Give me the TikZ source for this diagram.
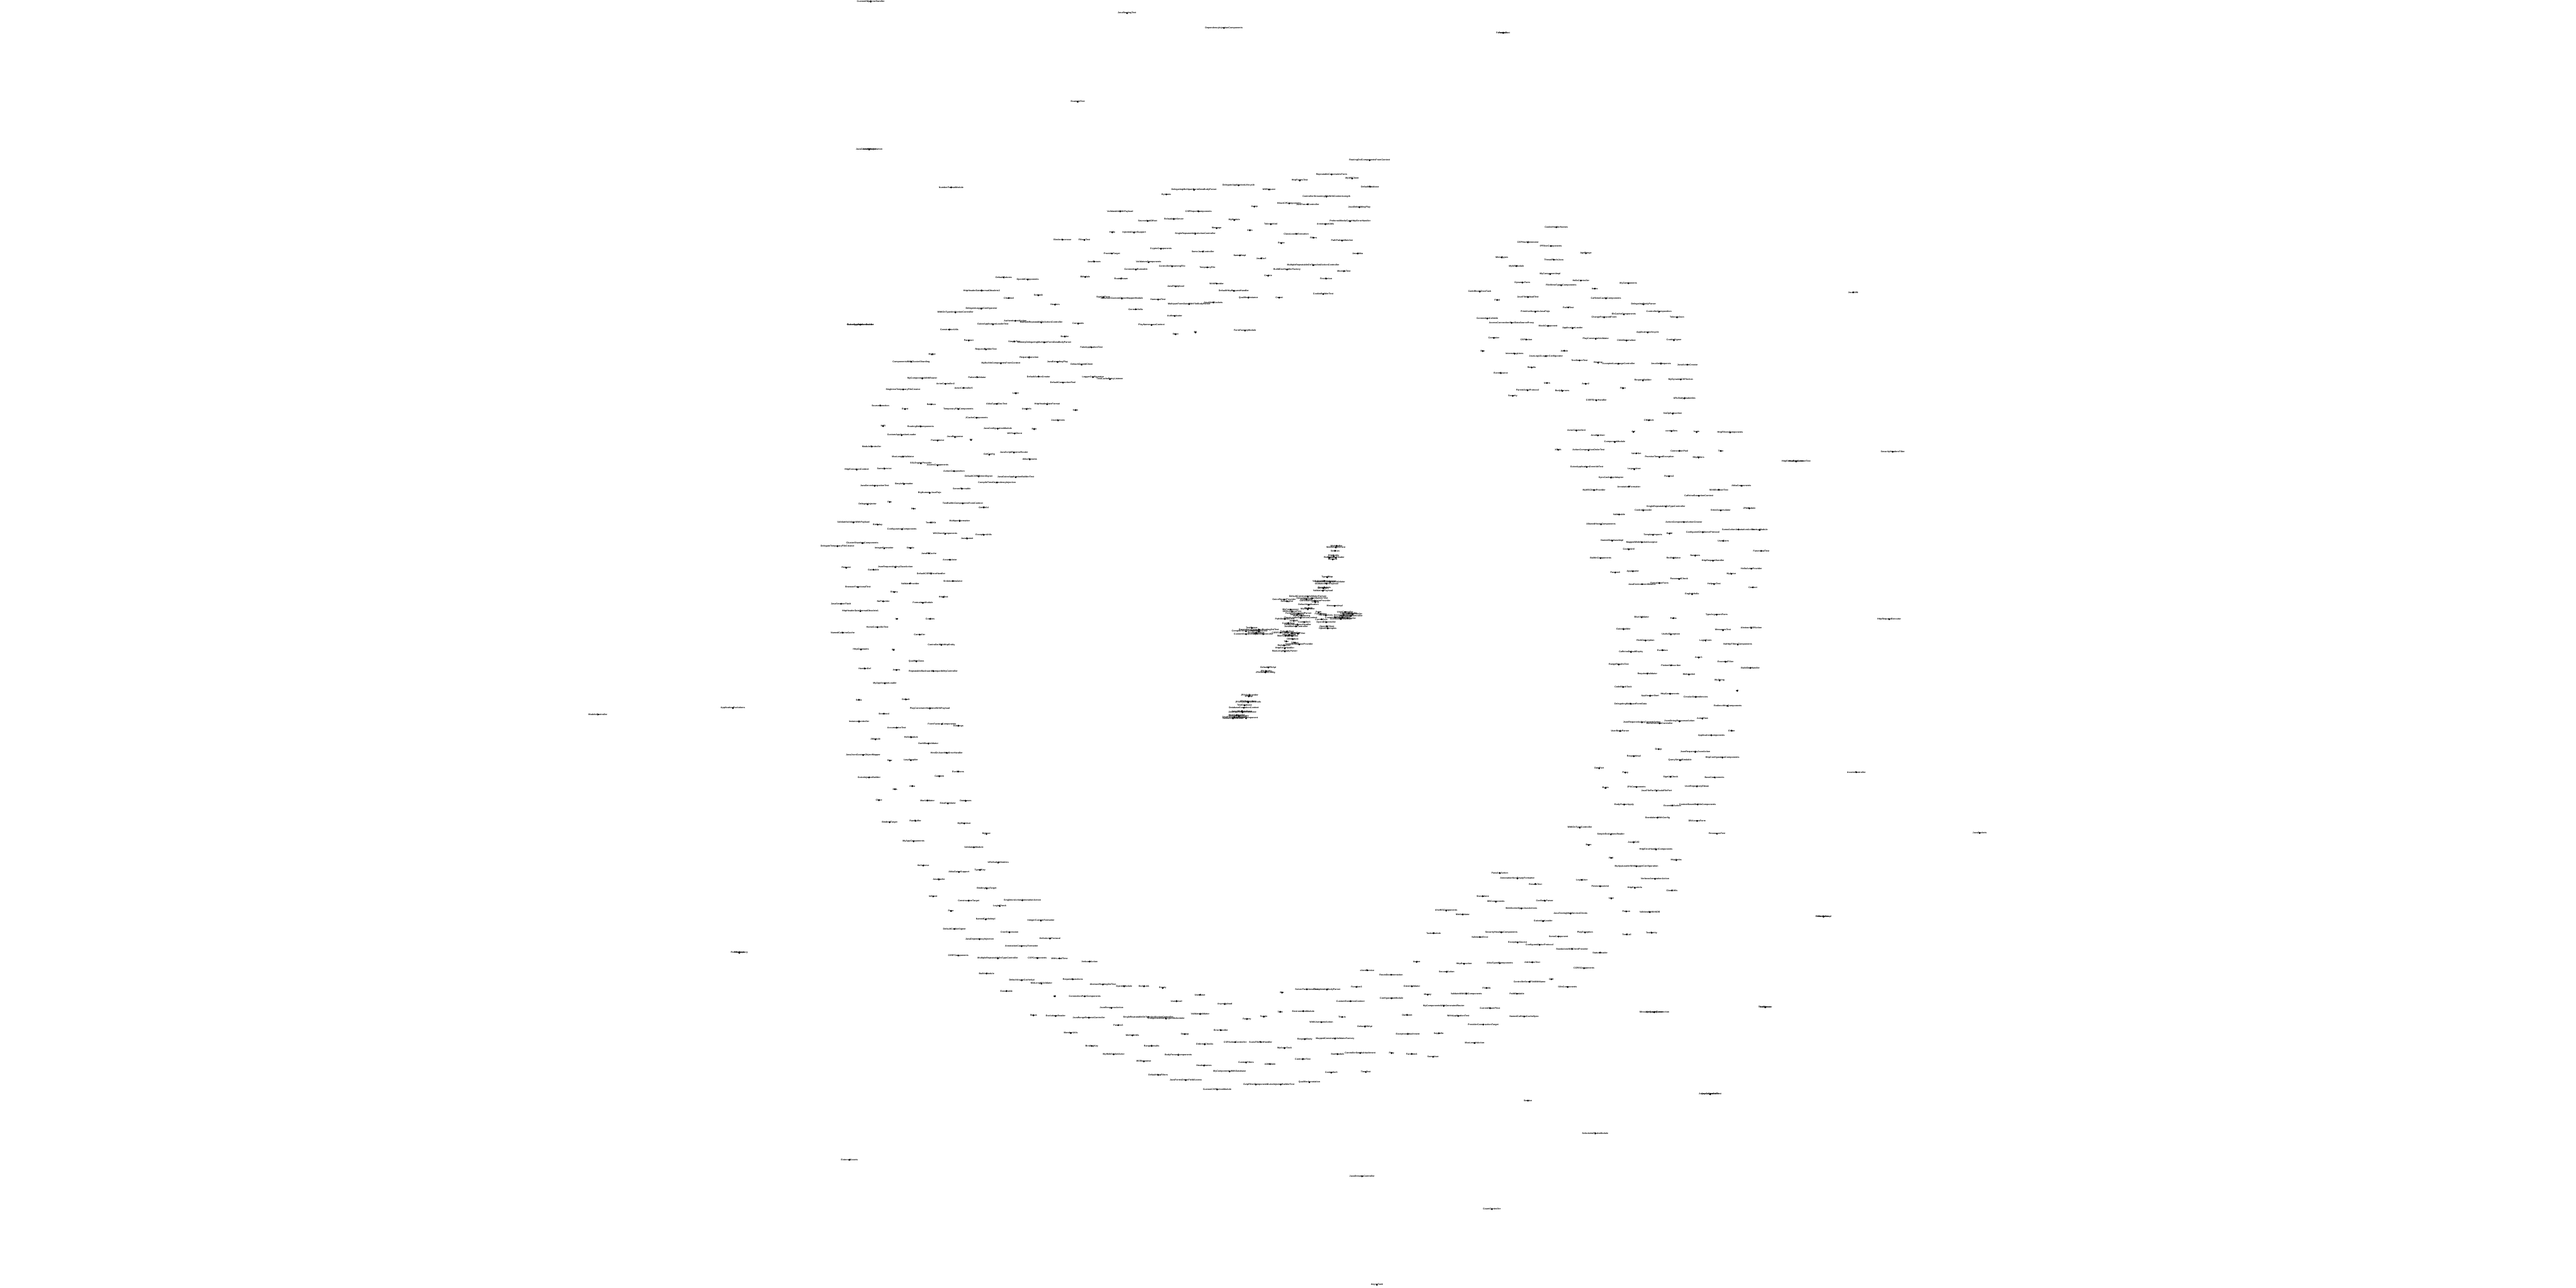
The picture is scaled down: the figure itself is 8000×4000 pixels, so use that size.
\documentclass[tikz,border=0pt]{standalone}
\usepackage{fontspec}
\setmainfont{Liberation Sans}
\newcommand\lblfont{\fontsize{1.02}{1.2}\selectfont\bfseries}
\tikzset{
 lbl/.style={font=\lblfont, inner sep=0pt, text=black},
 edge/.style={draw=black!50, line width=0.35pt},
 crop/.style n args={4}{shift={(#1,#2)}, x={(#3*0.005cm,0cm)}, y={(0cm,-#4*0.005cm)}},
}
\newcommand\labset[2]{\foreach \x/\y/\t [count=\i] in {#2}{\node[lbl] (#1\i) at (\x,\y) {\t}; \fill (#1\i.center) circle (0.015cm);}}
\newcommand\cn[4]{\node[lbl] (#1) at (#2,#3) {#4}; \fill (#1.center) circle (0.015cm);}
\pgfdeclarelayer{bg}\pgfsetlayers{bg,main}
\begin{document}
\begin{tikzpicture}[x=0.005cm,y=-0.005cm]
\fill[white] (0,0) rectangle (8000,4000);
\useasboundingbox (0,0) rectangle (8000,4000);

% ---- top arc (crop 2)
\begin{scope}[crop={3300}{450}{0.6378}{0.3827}]
\labset{b}{1495/125/RoutingDslComponentsFromContext,1310/240/RepeatableConstraintsForm,1410/273/MyWSClient,1155/289/HttpFormsTest,1497/339/DefaultDatabase,857/328/DelegateApplicationLifecycle,1005/362/WSRequest,640/365/DelegatingMultipartFormDataBodyParser,505/402/Dynamic,1285/420/ControllerStreamingFileWithContentLength,1103/475/HikariCPComponents,1193/482/JavaTracerController,934/501/Jsonp,1445/506/JavaEmbeddingPlay,280/540/ValidatableWithPayload,662/540/CSPReportComponents,542/602/ReloadableServer,414/618/SourceAndOffset,836/610/MyModule,1400/620/PreferredMediaTypeHttpErrorHandler,1014/644/TolerantXml,1280/644/AnnotationUtils,750/676/Message,912/693/Attrs,242/710/Hello,348/712/InjectedActorSupport,646/722/SingleRepeatableOnActionController,1138/722/ClassLoaderExecution,1222/753/Filters,1361/777/PathPatternMatcher,106/772/FiltersTest,1065/798/Route,479/843/CryptoComponents,683/866/SomeJavaController,240/882/ProviderTarget,1437/882/JavaAkka,863/897/NamedImpl,967/921/JavaCsrf,153/947/JavaStream,419/952/ValidatorsComponents,1220/976/MultipleRepeatableOnTypeAndActionController,533/986/ControllerStreamingFile,705/994/TemporaryFile,357/1012/ConnectionRunnable,1093/1012/BuildDocHandlerFactory,1370/1025/MockitoTest,1001/1062/Cookie,110/1072/BModule,285/1085/RouteParam,1283/1085/FirstAction,750/1125/WithProvider,551/1148/JavaFileUpload,834/1185/DefaultHttpRequestHandler,1269/1211/CookieBuilderTest,198/1237/SignUpForm,288/1247/JavaJsonCustomObjectMapperModule,905/1240/QualifiedInstance,1055/1240/Comet,465/1255/HamcrestTest,734/1279/JavaWebSockets,616/1292/MultipartFormDataWithFileBodyParser,356/1334/GermanHello,546/1389/Authenticator,76/1451/Constants,433/1462/PlayNamespaceContext,888/1507/FormFactoryModule,647/1522/R2,550/1537/Strict}
\end{scope}

% ---- upper left arc (crop 5)
\begin{scope}[crop={2500}{700}{0.7015}{0.5102}]
\labset{e}{1140/87/BinderAccessor,880/317/DefaultFutures,986/330/OpenIdComponents,782/397/HttpHeaderDateFormatObsolete2,902/442/Chunked,1033/426/Subtask,1107/483/Headers,781/507/DelegateLoggerConfigurator,666/530/WithOnTypeAndActionController,245/604/GuiceApplicationBuilder,245/604/GuiceApplicationLoader,931/581/AuthenticatedAction,1046/591/MultipleRepeatableOnActionController,832/603/GuiceApplicationLoaderTest,639/634/ConstructorUtils,1150/677/Builder,725/701/Params1,927/707/SimpleTest,1060/712/DummyDelegatingMultipartFormDataBodyParser,1268/742/FakeApplicationTest,801/755/RequestBuilderTest,563/785/MyApi,992/804/RequestFunction,470/830/ComponentsWithClusterSharding,867/840/MyBuiltInComponentsFromContext,1118/832/JavaExtendingPlay,1225/848/DefaultOpenIdClient,762/924/PatternValidator,1034/920/DefaultActionCreator,1275/924/LoggerConfigurator,1350/936/TestCacheEntryListener,519/932/MyComponentsWithRouter,1142/957/DefaultConnectionPool,622/965/ActorController2,702/989/ActorController5,434/999/SingletonTemporaryFileCreator,933/1022/Letter,334/1097/SourceFunction,559/1089/Relative,849/1087/AkkaTypedDocTest,1072/1089/HttpHeaderDateFormat,443/1118/Event,679/1118/TemporaryFileComponents,981/1118/UserInfo,1198/1124/form,760/1171/JCacheComponents,1120/1187/JavaActions,346/1222/NdR,512/1224/RoutingDslComponents,853/1238/JavaConfigurationModule,1015/1240/Role,928/1267/WSTestClient,428/1277/CustomApplicationLoader,664/1289/JavaResponse,587/1310/ParentActor,735/1306/A1,295/1346/ModuleController,816/1396/GetConfig,925/1383/JavaScriptReverseRouter,995/1424/AkkaStreams,434/1408/MaxLengthValidator,513/1449/SSLEngineProvider,587/1461/AssetsComponents,229/1487/HttpExecutionContext,351/1481/SomeService,660/1496/ActionComposition,769/1528/DefaultCSRFTokenSigner,933/1533/JavaGuiceApplicationBuilderTest,850/1565/CompileTimeDependencyInjection}
\end{scope}

% ---- left arc (crop 3)
\begin{scope}[crop={2500}{1500}{0.3827}{0.3189}]
\labset{c}{803/10/SimpleFormatter,565/28/JavaServerIntegrationTest,1272/55/ServerRunnable,1012/97/BigNumericJavaPojo,687/185/Foo,508/208/DelegateInjector,1280/199/TestBuiltInComponentsFromContext,881/250/Port,1450/238/GetChild,393/385/ValidateValidatorWithPayload,590/406/Birthday,1022/385/Text10Kb,1255/370/MultipartFormatter,787/451/ConfigurationComponents,1138/496/WSClientComponents,1450/505/ExceptionUtils,1315/541/JavaComet,465/586/ClusterShardingComponents,263/616/DelegateTemporaryFileCreator,642/637/IntegerFormatter,855/634/Simple,1005/685/JavaEhCache,1176/748/Accumulator,335/826/Request,733/820/JsonRequestAsAnyClazzAction,556/844/Guiceable,1023/883/DefaultCSRFErrorHandler,1200/955/SinkAccumulator,853/979/ValidateProvider,430/1015/BrowserFunctionalTest,724/1063/Binary,1124/1111/HttpTest,635/1153/NoProvider,956/1168/FormattersModule,292/1177/JavaSessionFlash,449/1249/HttpHeaderDateFormatObsolete1,745/1324/Int,1016/1324/Cookies,588/1405/HomeControllerTest,306/1459/NamedCaffeineCache,930/1477/Controller}
\end{scope}

% ---- lower left arc (crop 6)
\begin{scope}[crop={2500}{2000}{0.5102}{0.574}]
\labset{f}{830/5/ControllerWithHttpEntity,341/30/HttpConstants,539/32/B1,678/94/QualifierClass,364/133/HandlerDef,557/141/Assets,781/147/RepeatableBackwardCompatibilityController,486/213/MyApplicationLoader,328/302/Scala,614/300/Default,760/349/PlayConstraintValidatorWithPayload,480/377/Streamed,329/420/InstanceController,834/433/FormFactoryComponents,934/443/Bindings,558/453/AccumulatorTest,646/505/HelloModule,429/516/AModule,751/539/DarkBlueValidator,862/589/HtmlOrJsonHttpErrorHandler,354/601/JavaJsonCustomObjectMapper,516/631/Raw,644/629/LazySupplier,932/690/Evolutions,818/716/CartItem,390/722/GuiceInjectorBuilder,653/769/Akka,548/786/XML,450/845/Close,745/847/MaxValidator,870/863/EmailValidator,978/849/Databases,515/964/BindingTarget,672/957/RawBuffer,969/971/MyBlueUser,1104/1028/MyUser,661/1068/MyAppComponents,1028/1100/ValidatorsModule,1176/1183/URLBodyWritables,720/1199/HelloActor,1065/1223/TypedKey,937/1234/AkkaGuiceSupport,815/1274/JavaCache,1106/1323/BindingKeyTarget,780/1366/InEvent,996/1389/ConstructionTarget,1323/1387/SingletonActionAnnotationAction,1185/1418/LoginCheck,888/1445/Page,1100/1490/NamedCacheImpl,1436/1497/IntegerCustomFormatter,910/1542/DefaultCookieSigner,1245/1560/CronExpression}
\end{scope}

% ---- bottom left arc (crop 7)
\begin{scope}[crop={2800}{2850}{0.7015}{0.3827}]
\labset{g}{345/174/JavaDependencyInjection,657/169/HelloActorProtocol,531/231/AnnotationCurrencyFormatter,251/307/CSRFComponents,426/330/MultipleRepeatableOnTypeController,601/328/CSPComponents,699/330/WithLocalTime,832/356/VerboseAction,376/453/BuiltInModule,532/508/DefaultAsyncCacheApi,758/500/RequestFunctions,619/535/MinLengthValidator,891/542/AbstractRoutingDslTest,985/557/OpenIdModule,1073/557/BuildLink,1156/571/Empty,464/595/Executable,678/638/A2,811/638/ConnectionPoolComponents,1321/626/UserBase,1217/678/UserEmail,1431/701/AsyncUpload,929/733/JsonResponseAction,584/793/Status,682/798/EvolutionsReader,829/811/JavaRangeRequestController,1092/806/SingleRepeatableOnTypeAndActionController,1171/819/ComponentsWithTypedScheduler,1322/782/ValidateValidator,1529/822/Factory,959/872/Params3,1413/913/ErrorHandler,749/936/MemberUtils,1022/955/MethodUtils,1254/945/Startup,1477/1010/CSPActionController,1342/1028/OrderedChecks,842/1041/BindingKey,1107/1041/RangeResults,939/1109/MyWebSocketActor,1225/1114/BodyParserComponents,1072/1166/WSResponse,1525/1175/CustomFilters,1339/1200/HeaderNames,1452/1248/MyComponentsWithDatabase,1136/1276/DefaultHttpFilters,1258/1318/JavaFormsDirectFieldAccess,1397/1394/CustomCSPActionModule}
\end{scope}
\cn{sfph}{3915}{3236}{ScalaFilePartHandler}
\cn{gzfc}{3900}{3368}{GzipFilterComponents}

% ---- bottom right arc (crop 8)
\begin{scope}[crop={3900}{2700}{0.7015}{0.4464}]
\labset{h}{1080/25/PassArgAction,1158/63/AnnotationNonEmptyFormatter,1238/102/ResultsTest,1005/187/Standalone,1063/225/DBComponents,1279/218/CsvBodyParser,1176/272/WebSocketSpecJavaActions,843/287/AhcWSComponents,916/314/MinValidator,1272/360/GuiceAppLoader,787/444/TasksModule,1087/438/SecurityHeadersComponents,992/471/ValidationError,1340/467/SomeComponent,1159/509/ExceptionSource,1256/525/ConfiguredActorProtocol,1400/554/StandaloneWSClientProvider,1524/579/StatusHeader,712/644/Action,922/657/HttpExecution,1080/653/AkkaTypedComponents,1224/646/AttributesTest,1453/688/CORSComponents,493/702/clientService,845/713/SecondAction,599/733/RouteDocumentation,1308/764/Call,1212/782/ControllerSendFileWithName,226/834/ServerFunctionalTest,315/836/CompletableBodyParser,446/818/Function3,691/814/GreenValidator,1022/825/FileInfo,1380/818/I18nComponents,116/857/Bar,761/872/Money,932/865/ValidateWithDBComponents,1156/865/PathBindable,601/897/ConfigurationModule,419/917/CustomExecutionContext,832/950/MyComponentsWithGeneratedRouter,1037/966/CurrentSharePrice,108/991/Task,210/986/EnvironmentModule,35/1024/Toggle,382/1027/Thesis,670/1013/OutEvent,896/1020/WithApplicationTest,1188/1024/NamedCaffeineCacheSpec,290/1063/WithUsernameAction,483/1094/DefaultDBApi,1007/1080/ProviderConstructionTarget,673/1145/ExceptionAttachment,810/1141/SayHello,217/1181/RequestBody,351/1177/MappedConstraintValidatorFactory,969/1208/MaxLengthAction,127/1244/MyActorTask,362/1286/StartModule,462/1278/ControllerSendsAttachment,601/1278/Ping,690/1284/Function4,785/1304/SomeUser,208/1320/ControllerTest,63/1354/A2Module,334/1414/Controller5,487/1410/TimeTest,237/1481/QualifierAnnotation,110/1497/GuiceInjectorBuilderTest}
\end{scope}

% ---- upper right arc (crop 9)
\begin{scope}[crop={4300}{600}{0.6378}{0.5102}]
\labset{k}{836/207/CookieHeaderNames,698/299/CSPHashGenerator,810/322/IPFilterComponents,980/366/AgeRange,571/391/MimeTypes,824/405/ThreadPoolsJava,642/444/MyWSModule,806/493/MyComponentImpl,956/532/HelloController,671/544/DynamicForm,860/561/FileMimeTypesComponents,1187/548/MyComponents,1024/581/Items,463/599/CodeBlockOnceTask,698/632/JavaFileUploadTest,1078/640/CaffeineCacheComponents,548/650/Field,1261/677/DelegatingBodyParser,895/695/PathsTest,734/722/PrimitiveNumericJavaPojo,1336/722/ControllerComposition,1165/738/EhCacheComponents,1069/756/ChangePasswordForm,1424/756/TolerantJson,500/763/ConnectionCallable,618/789/AccessConnectionPoolDataSourceProxy,796/808/MockComponent,915/822/ApplicationLoader,1281/848/ApplicationLifecycle,532/881/Computer,690/891/CSPAction,1028/887/PlayConstraintValidator,1178/897/ChildDeserializer,1409/895/CookieSigner,478/961/Baz,875/959/Admin,633/977/InterestingLines,786/991/JavaLog4JLoggerConfigurator,949/1018/TestServerTest,1040/1032/Binding,1140/1038/AcceptedLanguageController,1346/1038/JavaXmlRequests,1475/1044/JavaActionCreator,716/1061/Results,566/1095/EventSource,1258/1140/RequestBuilder,1442/1134/MyDynamicCSPAction,791/1155/Users,979/1161/Actor2,696/1200/ParentActorProtocol,865/1204/BodyParsers,1161/1187/Filter,624/1234/Security,1031/1261/CSRFErrorHandler,1460/1249/URLBodyReadables,1403/1342/NoOpSubscriber,934/1445/ActorController4,993/1565/ActionCompositionOrderTest,845/1562/XPath}
\end{scope}

% ---- right arc (crop 10)
\begin{scope}[crop={4900}{1300}{0.4464}{0.574}]
\labset{m}{495/9/CModule,387/72/Api,652/68/controllers,827/73/login,1060/75/HttpFiltersComponents,140/91/AnotherUser,257/127/ComponentModule,407/188/ValueSet,707/175/ConnectionPool,995/175/Time,568/209/PromiseTimeoutException,840/211/HttpFilters,62/262/GuiceApplicationOverrideTest,393/274/LegacyUser,231/319/SyncCacheApiAdapter,635/312/Params2,1138/364/AkkaComponents,355/368/AnnotationFormatter,981/385/WithBrowserTest,113/387/MyWSClientProvider,842/418/CaffeineExecutionContext,613/476/SingleRepeatableOnTypeController,455/497/CookieEncoder,994/497/StrictAccumulator,1193/486/JPAModule,287/519/Validatable,738/560/ActionCompositionActionCreator,161/572/AllowedHostsComponents,1118/600/SomeActionAnnotationAction,1265/603/StartupModule,523/629/TemplateImports,638/622/Build,870/615/ConfiguredChildActorProtocol,239/661/NamedDatabaseImpl,445/669/MappedWebSocketAcceptor,1012/662/UserForm,354/708/CookieUtil,1276/716/FunctionalTest,159/755/BuiltInComponents,666/755/RedValidator,817/742/Numbers,940/769/HttpRequestHandler,1208/812/HelloActorProvider,260/833/Params0,383/826/AppLoader,1068/840/MyActor,705/868/PasswordCheck,447/896/JavaEnvironmentModule,568/890/PartialUserForm,948/896/HelpersTest,1218/913/Context,795/950/EnglishHello,966/1061/TypeArgumentForm,444/1075/BlueValidator,665/1080/Paths,1207/1133/AbstractCSPAction,318/1140/GuiceBuilder,1010/1145/MessagesTest,647/1168/UsefulException,471/1201/RichDescription,889/1201/LoginForm,1113/1223/NoHttpFiltersComponents,589/1253/Evolution,370/1263/CaffeineDefaultExpiry,841/1293/Actor1,1028/1316/EssentialFilter,285/1331/RangeResultsTest,648/1335/FlattenSubscriber,1201/1349/BuildDocHandler,484/1380/RequiredValidator,773/1385/Websocket}
\end{scope}

% ---- lower right arc (crop 11)
\begin{scope}[crop={4800}{2100}{0.5102}{0.5102}]
\labset{p}{1059/26/MyString,472/66/CodeBlockTask,1167/89/e1,636/120/ApplicationStart,757/107/HttpComponents,914/126/CircularDependencies,517/168/DelegatingMultipartFormData,1109/181/RedirectHttpComponents,955/258/ActorFlow,586/281/JsonRequestAsAnyContentAction,694/287/WithOnActionController,815/275/JsonStringResponseAction,453/334/UserBodyParser,1133/332/Either,1009/360/ApplicationComponents,687/444/Group,911/461/JsonRequestAsJsonAction,537/487/RequestImpl,1076/495/HttpConfigurationComponents,818/512/QueryStringBindable,326/561/DataPart,485/587/Pong,761/612/SignUpCheck,1028/616/BaseComponents,365/681/Bytes,553/675/JPAComponents,921/671/UserRepositoryEbean,675/697/JavaFilePartToScalaFilePart,478/781/BodyParserApply,771/787/EssentialAction,925/781/ContextBasedBuiltInComponents,681/861/StandaloneWithConfig,922/881/DBAccessForm,208/922/WithOnTypeController,397/963/SimpleEvolutionsReader,1043/959/ResourcesTest,262/1028/Bean,536/1012/JavaPOJO,672/1055/HttpErrorHandlerComponents,399/1106/Red,795/1120/HttpVerbs,553/1157/MyAppLoaderWithLoggerConfiguration,666/1234/VerboseAnnotationAction,220/1240/LoginUser,332/1279/PersistenceUnit,543/1289/HttpErrorInfo,769/1304/ClassUtils,400/1353/User,152/1445/JavaTestingWebServiceClients,491/1432/Person,634/1436/ValidatableWithDB,240/1560/PlayException,645/1562/TestEntity}
\end{scope}

% ---- outlying nodes
\labset{q}{5052/2902/TestCall,5138/3143/MessageQueueConnection,5138/3143/MessageQueue,5482/3128/TestBrowser,5482/3128/TestServer,2704/5/CustomHttpErrorHandler,3500/41/JavaRoutingTest,3801/87/DependencyInjectionComponents,4668/102/Formats,4668/102/FormatsTest,3347/316/ExampleTest,2699/464/JavaContentNegotiation,2699/464/JavaResults,2954/582/NumberFormatModule,5755/908/JavaI18N,5878/1403/SecurityHeadersFilter,5867/1923/HttpRequestExecutor,5765/2398/AssetsController,6148/2587/JavaSockets,5663/2847/EbeanDao,5663/2847/EbeanDaoImpl,1857/2219/ModelsController,2276/2199/ApplicationEvolutions,2296/2959/PostRepository,2296/2959/PostRepo,4745/3418/Service,4954/3520/ScheduledTasksModule,5311/3398/AsyncController,5311/3398/AsyncControllerTest,2638/3602/ExternalAssets,4230/3653/JavaStreamsController,4633/3755/CountController,4276/3990/AsyncTask,5578/1433/HttpExecutionContextTest,5578/1433/HttpExecution}

% ---- central cluster (crop 1)
\begin{scope}[crop={3700}{1650}{0.4464}{0.3827}]
\cn{wsh}{1010}{118}{WsHandler}
\cn{wsc}{1005}{131}{WebSocketClient}
\cn{ses}{1000}{158}{Session}
\cn{hent}{990}{200}{HttpEntity}
\cn{resp}{960}{215}{Response}
\cn{rht}{1005}{215}{RequestHeader}
\cn{req}{983}{228}{Request}
\cn{tmap}{945}{373}{TypedMap}
\cn{vwv}{925}{403}{ValidateWithValidator}
\cn{vcv}{965}{411}{ValidateConstraintValidator}
\cn{vwp}{940}{425}{ValidatorWithPayload}
\cn{cons}{925}{455}{Constraints}
\cn{msgs}{918}{463}{Messages}
\cn{vpay}{915}{482}{ValidationPayload}
\cn{dcvf}{810}{530}{DefaultConstraintValidatorFactory}
\cn{gab}{840}{545}{GuiceApplicationBuilderTest}
\cn{ext}{800}{552}{Extractors}
\cn{cvp}{860}{565}{ConstraintValidatorProvider}
\cn{cfg}{862}{575}{Config}
\cn{grp}{645}{555}{GuiceRouterProvider}
\cn{rdsl}{665}{568}{RoutingDsl}
\cn{dapp}{815}{597}{DefaultApplication}
\cn{mimpl}{997}{605}{MessagesImpl}
\cn{mod}{815}{625}{Module}
\cn{myc}{810}{633}{MyController}
\cn{mycomp}{690}{635}{MyComponent}
\cn{ghct}{700}{652}{GitHubClientTest}
\cn{fup}{745}{668}{FormUrlEncodedParser}
\cn{jh}{735}{677}{JavaHeaders}
\cn{tc}{765}{686}{TestComponent}
\cn{from}{885}{658}{From}
\cn{fmt}{900}{670}{Formatters}
\cn{ff}{935}{682}{FormFactory}
\cn{clec}{760}{703}{ClassLoaderExecutionContext}
\cn{pb}{650}{712}{PathBindableTest}
\cn{jws}{712}{727}{JavaWS}
\cn{c3}{785}{737}{Controller3}
\cn{c4}{675}{745}{Controller4}
\cn{deh}{740}{760}{DefaultHttpErrorHandler}
\cn{jmc}{728}{772}{JavaMarkerController}
\cn{ca}{905}{714}{Controllers}
\cn{oidc}{938}{738}{OpenIDController}
\cn{oidcl}{943}{772}{OpenIDClient}
\cn{oids}{948}{788}{OpenIDSamples}
\cn{rc1}{1070}{655}{UserController}
\cn{rc2}{1095}{665}{LoginController}
\cn{rc3}{1120}{672}{ProductController}
\cn{rc4}{1060}{680}{AccountController}
\cn{rc5}{1110}{688}{ApplicationController}
\cn{rc6}{1050}{697}{ItemsController}
\cn{rc7}{1085}{705}{OrderController}
\cn{rc8}{1040}{712}{CustomerController}
\cn{rc9}{1000}{700}{CustomConstraint}
\cn{lc1}{420}{785}{TestServer}
\cn{lc2}{470}{798}{DependencyInjectionRoutingDslTest}
\cn{lc3}{380}{812}{CompileTimeInjectionTest}
\cn{lc4}{470}{812}{RoutingDslTest}
\cn{lc5}{450}{825}{AnotherModule}
\cn{lc6}{380}{835}{CustomExecutorsTest}
\cn{lc7}{500}{835}{InjectedController}
\cn{h1}{665}{812}{TolerantText}
\cn{h2}{620}{822}{CSRFController}
\cn{h3}{700}{826}{JavaController}
\cn{h4}{740}{832}{LoggingFilter}
\cn{h5}{680}{840}{HttpContext}
\cn{h6}{655}{848}{MainController}
\cn{h7}{700}{850}{Application}
\cn{dbm}{705}{875}{DBModule}
\cn{text}{660}{893}{Text}
\cn{dbapi}{720}{905}{DBApi}
\cn{ndp}{750}{918}{NamedDatabaseProvider}
\cn{bp}{645}{927}{BodyParser}
\cn{heh}{650}{950}{HttpErrorHandler}
\cn{mlbp}{650}{975}{MaxLengthBodyParser}
\cn{djpa}{535}{1105}{DefaultJPAApi}
\cn{jpac}{520}{1135}{JPAConfig}
\cn{jpadc}{515}{1145}{JPADefaultConfig}
\cn{jpap}{405}{1332}{JPAApiProvider}
\cn{jpa}{400}{1340}{JPAApi}
\cn{jpar}{395}{1383}{JPARepository}
\cn{jparm}{395}{1389}{JPARepositoryMethods}
\cn{tdb}{370}{1413}{TestDatabase}
\cn{dbec}{365}{1432}{DatabaseExecutionContext}
\cn{jjd}{350}{1460}{JavaJdbcDatabase}
\cn{jad}{355}{1468}{JavaApplicationDatabase}
\cn{bc1}{315}{1492}{UserController}
\cn{bc2}{330}{1500}{PersonRepository}
\cn{bc3}{300}{1510}{JavaEbeanComponent}
\cn{bc4}{380}{1517}{EmployeeComponent}
\cn{bc5}{290}{1518}{ValidatedController}
\end{scope}

\begin{pgfonlayer}{bg}
\draw[edge] (wsh) -- (wsc) -- (ses) -- (hent) -- (req);
\draw[edge] (resp) -- (req) (rht) -- (req);
\draw[edge] (req) to[out=-70,in=70] (tmap);
\draw[edge] (tmap) -- (vwv) (tmap) -- (vcv) (tmap) to[bend left=10] (vpay);
\draw[edge] (vwv) -- (cons) (vcv) -- (vwp) -- (msgs) -- (vpay);
\draw[edge] (vpay) -- (cfg) (cons) to[bend left=15] (cfg) (vwp) to[bend right=10] (cvp);
\draw[edge] (cons) to[out=-20,in=100] (mimpl);
\draw[edge] (cfg) -- (dapp) -- (myc) (dcvf) -- (cfg) (gab) -- (cfg) (ext) -- (cfg);
\draw[edge] (cfg) to[out=-100,in=60] (h3);
\draw[edge] (cfg) to[out=-120,in=50] (h4);
\draw[edge] (gab) to[out=-110,in=70] (h1);
\draw[edge] (from) to[out=-130,in=40] (h4);
\draw[edge] (from) to[out=-110,in=30] (h7);
\draw[edge] (mod) to[out=-110,in=80] (h3);
\draw[edge] (grp) to[out=-100,in=170] (mycomp);
\draw[edge] (rdsl) -- (grp);
\draw[edge] (mycomp) -- (ghct) -- (jh) -- (pb) (fup) -- (tc) -- (clec);
\draw[edge] (rc1) to[out=170,in=20] (clec);
\draw[edge] (rc2) to[out=160,in=30] (ff);
\draw[edge] (rc4) to[out=165,in=20] (c3);
\draw[edge] (rc6) to[out=170,in=10] (jws);
\draw[edge] (rc8) to[out=190,in=30] (h4);
\draw[edge] (rc9) to[out=200,in=40] (deh);
\draw[edge] (ff) -- (fmt) -- (from) (ff) -- (ca);
\draw[edge] (ca) -- (oidc) -- (oidcl) -- (oids);
\draw[edge] (clec) -- (jws) -- (c4) (c3) -- (deh) -- (jmc);
\draw[edge] (jmc) -- (h3) (c4) -- (h1) (jws) -- (h3) (deh) -- (h4) (pb) -- (h2);
\draw[edge] (h2) to[out=150,in=10] (lc1);
\draw[edge] (h2) to[out=170,in=0] (lc2);
\draw[edge] (h6) to[out=180,in=0] (lc7);
\draw[edge] (lc1) -- (lc3) (lc2) -- (lc4) -- (lc5) -- (lc6);
\draw[edge] (h1) -- (h2) -- (h6) -- (h5) -- (h3) -- (h4) -- (h7);
\draw[edge] (h7) -- (dbm) -- (dbapi) -- (ndp) (h5) -- (text) -- (bp) -- (heh) -- (mlbp) (h6) -- (text);
\draw[edge] (h6) to[out=-120,in=85] (djpa);
\draw[edge] (djpa) -- (jpac) -- (jpadc);
\draw[edge] (jpadc) to[out=-70,in=50] (jpap);
\draw[edge] (jpac) to[out=-60,in=55] (jpa);
\draw[edge] (jpap) -- (jpa) -- (jpar) -- (jparm) -- (tdb) -- (dbec) -- (jjd) -- (jad) -- (bc1);
\draw[edge] (jpa) -- (tdb) (jpa) -- (jad) (jad) -- (bc2) (jad) -- (bc3) (jad) -- (bc4) (jjd) -- (bc5);
\end{pgfonlayer}
\end{tikzpicture}
\end{document}
